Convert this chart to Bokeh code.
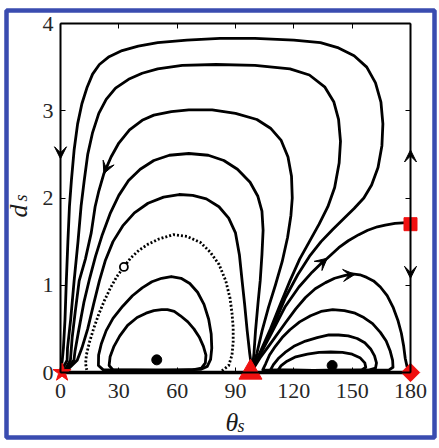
import math
from bokeh.plotting import figure
from bokeh.models import Range1d, LinearAxis, FixedTicker, Label, Arrow, VeeHead
from bokeh.embed import file_html
from bokeh.resources import INLINE

# ---------------- data ----------------
x_ticks = [0, 30, 60, 90, 120, 150, 180]
y_ticks = [0, 1, 2, 3, 4]
x_lim = [0, 180]
y_lim = [0, 4]

# outer trajectories: from the saddle (triangle) over the top to the star
c1_theta = [98.5, 104, 110, 115.7, 122, 128, 134, 140, 146, 151, 156, 160, 163.3, 165.3, 165.8, 164.8, 162, 157.5, 151, 143, 133.7, 120, 100, 82, 65, 50, 40, 31.7, 25, 20, 16.5, 13.7, 11, 8.8, 7, 5.6, 4.6, 3.8, 3.0, 2.3, 1.5, 0.9, 0.2]
c1_d = [0.02, 0.28, 0.56, 0.86, 1.12, 1.33, 1.5, 1.64, 1.77, 1.88, 2.0, 2.15, 2.35, 2.6, 2.85, 3.1, 3.32, 3.5, 3.63, 3.72, 3.78, 3.81, 3.83, 3.83, 3.81, 3.78, 3.74, 3.69, 3.62, 3.53, 3.42, 3.27, 3.08, 2.85, 2.55, 2.2, 1.9, 1.5, 1.05, 0.6, 0.28, 0.14, 0.02]

c2_theta = [98.5, 103, 108, 113, 118, 123, 128, 133, 137.5, 141, 143.3, 144, 143, 140.6, 136, 128, 118, 100, 80, 62.6, 50, 42, 35, 28.3, 23.5, 19.7, 16.5, 14, 12.2, 10.6, 9, 7, 5.2, 3.6, 3.4, 0.5]
c2_d = [0.02, 0.25, 0.5, 0.78, 1.05, 1.3, 1.5, 1.7, 1.9, 2.12, 2.4, 2.65, 2.9, 3.1, 3.27, 3.41, 3.48, 3.52, 3.53, 3.52, 3.48, 3.43, 3.36, 3.26, 3.13, 2.97, 2.75, 2.5, 2.2, 1.91, 1.5, 1.05, 0.6, 0.28, 0.14, 0.02]

c3_theta = [98.5, 101, 103.7, 107, 110.5, 114, 116.8, 118.5, 119.2, 118.8, 117, 113.5, 108, 101, 90, 78, 66, 57, 48, 42, 35.5, 30, 26, 22.3, 19.7, 17.8, 15.8, 12.8, 9.6, 7.6, 6, 5.1, 2.5, 0.5]
c3_d = [0.02, 0.22, 0.48, 0.75, 1.0, 1.27, 1.55, 1.8, 2.0, 2.25, 2.47, 2.66, 2.8, 2.9, 2.97, 3.01, 3.01, 2.99, 2.95, 2.89, 2.78, 2.63, 2.47, 2.28, 2.08, 1.9, 1.6, 1.3, 1.05, 0.7, 0.4, 0.14, 0.04, 0.01]

c4_theta = [98.5, 99.5, 100.3, 101.6, 102.7, 103.6, 104.2, 103.6, 101.5, 97.5, 91, 84, 76, 66, 56, 48, 41, 35, 30, 25.5, 21.5, 18, 15, 12, 9.5, 7.5, 6.9, 3, 0.5]
c4_d = [0.02, 0.22, 0.48, 0.8, 1.05, 1.35, 1.63, 1.85, 2.02, 2.18, 2.33, 2.43, 2.49, 2.51, 2.49, 2.43, 2.33, 2.2, 2.03, 1.82, 1.58, 1.33, 1.08, 0.8, 0.5, 0.25, 0.14, 0.04, 0.01]

c5_theta = [98.5, 97.3, 96, 94.7, 93.4, 92, 90, 86.5, 81.5, 75, 68, 61, 53, 45, 38, 32, 27, 23, 20, 17, 14, 11, 8.6, 4, 0.5]
c5_d = [0.02, 0.22, 0.48, 0.78, 1.05, 1.35, 1.6, 1.77, 1.9, 1.99, 2.03, 2.04, 2.01, 1.94, 1.83, 1.68, 1.5, 1.28, 1.05, 0.78, 0.5, 0.28, 0.14, 0.04, 0.01]

# dotted separatrix
sep_theta = [83, 86.5, 88.2, 88.8, 88.8, 88.2, 87.2, 85, 81.5, 77, 72, 65, 58, 50.6, 45, 40.3, 36, 32.6, 29, 25.7, 22.5, 19.7, 17, 14.8, 13.3, 12.9, 13.5]
sep_d = [0.02, 0.08, 0.2, 0.35, 0.52, 0.68, 0.85, 1.05, 1.24, 1.38, 1.49, 1.56, 1.58, 1.53, 1.47, 1.4, 1.31, 1.21, 1.1, 0.97, 0.82, 0.67, 0.5, 0.34, 0.2, 0.1, 0.03]

# closed orbits round the left centre
l1_theta = [22, 19.5, 19.6, 21, 23.5, 27, 32, 37, 42, 47, 52, 57, 62, 66.5, 70.5, 73.8, 76.2, 77.5, 77.8, 77.2, 75.5, 72, 60, 40, 22]
l1_d = [0.03, 0.08, 0.2, 0.33, 0.48, 0.62, 0.76, 0.88, 0.97, 1.04, 1.08, 1.1, 1.08, 1.02, 0.92, 0.78, 0.61, 0.44, 0.28, 0.15, 0.07, 0.035, 0.03, 0.03, 0.03]
l2_theta = [27, 25, 25.5, 27.5, 30.5, 34.5, 39.4, 44, 48, 52, 55, 58.5, 61.7, 65.5, 68.6, 71.5, 73.5, 74.8, 74.5, 72.5, 68, 50, 27]
l2_d = [0.03, 0.08, 0.18, 0.3, 0.42, 0.54, 0.63, 0.68, 0.71, 0.72, 0.72, 0.7, 0.65, 0.58, 0.5, 0.4, 0.3, 0.2, 0.11, 0.05, 0.03, 0.025, 0.03]

# right-hand trajectories
s_theta = [98.5, 103, 108, 115.7, 122.6, 129.4, 134, 137.2, 143.1, 148, 153.4, 158, 163, 167, 172, 180]
s_d = [0.02, 0.22, 0.43, 0.76, 0.98, 1.15, 1.25, 1.31, 1.43, 1.51, 1.58, 1.63, 1.67, 1.69, 1.71, 1.72]
dd_theta = [98.5, 103, 108, 115.7, 121, 126, 131, 136.3, 141, 146, 150, 154, 157.5, 161, 164.5, 168, 171, 173.5, 175.3, 176.5, 177.3, 178.2, 180]
dd_d = [0.02, 0.18, 0.33, 0.57, 0.73, 0.86, 0.96, 1.03, 1.08, 1.11, 1.13, 1.12, 1.09, 1.05, 0.98, 0.88, 0.75, 0.6, 0.45, 0.3, 0.16, 0.07, 0.0]
r1_theta = [104, 105.5, 107.5, 110.5, 114, 118, 123, 128.6, 134, 140, 146, 151.5, 156, 160.5, 164.5, 167.5, 169.5, 170.8, 171, 169, 150, 120, 104]
r1_d = [0.03, 0.1, 0.2, 0.3, 0.4, 0.49, 0.58, 0.65, 0.7, 0.72, 0.71, 0.68, 0.63, 0.56, 0.46, 0.36, 0.25, 0.14, 0.06, 0.03, 0.025, 0.025, 0.03]
r2_theta = [108, 109.5, 112, 115.5, 120, 126, 132, 138, 143, 148, 152.6, 156.5, 159.5, 161.5, 162.5, 162, 159, 130, 108]
r2_d = [0.03, 0.09, 0.16, 0.23, 0.3, 0.36, 0.4, 0.43, 0.43, 0.42, 0.39, 0.34, 0.27, 0.19, 0.11, 0.05, 0.03, 0.025, 0.03]
r3_theta = [112, 113.5, 116.5, 121, 127, 133, 139, 145, 150, 154, 156.5, 157, 155, 130, 112]
r3_d = [0.03, 0.08, 0.13, 0.18, 0.21, 0.23, 0.235, 0.23, 0.21, 0.17, 0.11, 0.06, 0.03, 0.025, 0.03]

# equilibria
centre_theta = [49.5, 139.7]
centre_d = [0.145, 0.08]
star_pt = (0.8, 0)
triangle_pt = (97.7, 0)
diamond_pt = (180, 0)
square_pt = (180, 1.70)
open_pt = (32.6, 1.21)

# arrows: (theta_start, d_start, theta_tip, d_tip)
arrows = [
    (0, 2.62, 0, 2.45),
    (180, 2.38, 180, 2.55),
    (180, 1.25, 180, 1.08),
    (25.2, 2.43, 22.3, 2.28),
    (134, 1.25, 137.2, 1.31),
    (146.5, 1.115, 151.5, 1.125),
]

# ---------------- layout geometry (pixels, page origin = canvas origin) ----------------
W, H = 438, 446
MB_L, MB_R, MB_T, MB_B = 6, 4, 10, 9
BOX_L, BOX_R, BOX_T, BOX_B = 60, 410, 23, 372   # axes box on the page
kx = (BOX_R - BOX_L) / (x_lim[1] - x_lim[0])
ky = (BOX_B - BOX_T) / (y_lim[1] - y_lim[0])
fl, fr = MB_L, W - MB_R
ft, fb = MB_T, H - MB_B
x0 = x_lim[0] - (BOX_L - fl) / kx
x1 = x_lim[1] + (fr - BOX_R) / kx
y1 = y_lim[1] + (BOX_T - ft) / ky
y0 = y_lim[0] - (fb - BOX_B) / ky

def dx(px):
    return x_lim[0] + (px - BOX_L) / kx

def dy(py):
    return y_lim[0] + (BOX_B - py) / ky

BLUE = "#3a4cb0"
RED = "#f01010"
FONT = "Liberation Serif"
INK = "#262626"

p = figure(width=W, height=H, x_range=Range1d(x0, x1), y_range=Range1d(y0, y1),
           output_backend="svg", toolbar_location=None,
           min_border_left=MB_L, min_border_right=MB_R, min_border_top=MB_T, min_border_bottom=MB_B)
p.xgrid.visible = False
p.ygrid.visible = False
p.outline_line_color = BLUE
p.outline_line_width = 4.5
p.background_fill_color = "white"
p.border_fill_color = "white"

def style_axis(ax, loc, bounds, ticks, labels):
    ax.fixed_location = loc
    ax.bounds = bounds
    ax.ticker = FixedTicker(ticks=ticks)
    ax.axis_line_color = "black"
    ax.axis_line_width = 2
    ax.major_tick_in = 5
    ax.major_tick_out = 0
    ax.major_tick_line_color = "black"
    ax.major_tick_line_width = 1
    ax.minor_tick_line_color = None
    ax.major_label_text_font = FONT
    ax.major_label_text_font_size = "22px"
    if labels:
        ax.major_label_text_color = INK
    else:
        ax.major_label_text_color = None

style_axis(p.xaxis[0], y_lim[0], tuple(x_lim), x_ticks, True)
style_axis(p.yaxis[0], x_lim[0], tuple(y_lim), y_ticks, True)
p.xaxis[0].major_label_standoff = 11
p.yaxis[0].major_label_standoff = 7
top_ax = LinearAxis()
right_ax = LinearAxis()
p.add_layout(top_ax, "above")
p.add_layout(right_ax, "right")
style_axis(top_ax, y_lim[1], tuple(x_lim), x_ticks, False)
style_axis(right_ax, x_lim[1], tuple(y_lim), y_ticks, False)

LW = 2.8
for th, dv in ((c1_theta, c1_d), (c2_theta, c2_d), (c3_theta, c3_d), (c4_theta, c4_d), (c5_theta, c5_d),
               (l1_theta, l1_d), (l2_theta, l2_d), (s_theta, s_d), (dd_theta, dd_d),
               (r1_theta, r1_d), (r2_theta, r2_d), (r3_theta, r3_d)):
    p.line(th, dv, line_color="black", line_width=LW, line_join="round", line_cap="round")

p.line(sep_theta, sep_d, line_color="black", line_width=2.8, line_dash="2 2")
p.line(x_lim, [y_lim[0], y_lim[0]], line_color="black", line_width=3.5)

p.scatter(centre_theta, centre_d, size=10, color="black")
p.scatter([open_pt[0]], [open_pt[1]], size=8, fill_color="white", line_color="black", line_width=1.8)

for (xa, ya, xb, yb) in arrows:
    p.add_layout(Arrow(end=VeeHead(size=12, fill_color="black", line_color="black", line_width=1),
                       x_start=xa, y_start=ya, x_end=xb, y_end=yb, line_alpha=0))

p.scatter([star_pt[0]], [star_pt[1]], marker="star", size=19, color=RED)
p.scatter([triangle_pt[0]], [triangle_pt[1]], marker="triangle", size=23, color=RED)
p.scatter([diamond_pt[0]], [diamond_pt[1]], marker="square", angle=math.pi / 4, size=13, color=RED)
p.scatter([square_pt[0]], [square_pt[1]], marker="square", size=13, color=RED)

# axis titles (italic serif with subscript)
p.add_layout(Label(x=dx(225), y=dy(422), text="θ", text_font=FONT, text_font_style="italic",
                   text_font_size="26px", text_color="#1a1a1a", text_baseline="alphabetic"))
p.add_layout(Label(x=dx(237), y=dy(425.5), text="s", text_font=FONT, text_font_style="italic",
                   text_font_size="18px", text_color="#1a1a1a", text_baseline="alphabetic"))
p.add_layout(Label(x=dx(18), y=dy(217), text="d", angle=math.pi / 2, text_font=FONT, text_font_style="italic",
                   text_font_size="26px", text_color="#1a1a1a", text_baseline="alphabetic"))
p.add_layout(Label(x=dx(20.5), y=dy(201), text="s", angle=math.pi / 2, text_font=FONT, text_font_style="italic",
                   text_font_size="18px", text_color="#1a1a1a", text_baseline="alphabetic"))

open("out.html", "w").write(file_html(p, INLINE))
